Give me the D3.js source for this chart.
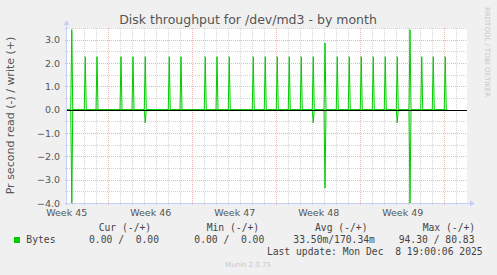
<!DOCTYPE html>
<html lang="en">
<head>
    <meta charset="UTF-8">
    <title>Disk throughput for /dev/md3 - by month</title>
    <script src="https://d3js.org/d3.v7.min.js"></script>
    <style>
        body {
            margin: 0;
            background-color: #f0f0f0;
        }
        svg text {
            white-space: pre;
        }
        .sans { font-family: "DejaVu Sans", sans-serif; }
        .mono { font-family: "DejaVu Sans Mono", monospace; }
    </style>
</head>
<body>
    <div id="chart_div"></div>

    <script>
        // Data
        const spikeTimes = [
            "2025-11-06 23:00", "2025-11-08 02:00", "2025-11-09 01:30", "2025-11-11 01:30",
            "2025-11-12 01:30", "2025-11-13 02:00", "2025-11-15 02:00", "2025-11-16 01:30",
            "2025-11-18 02:00", "2025-11-19 01:30", "2025-11-20 02:00", "2025-11-22 02:00",
            "2025-11-23 02:00", "2025-11-24 02:00", "2025-11-25 02:00", "2025-11-26 02:00",
            "2025-11-27 02:00", "2025-11-28 01:30", "2025-11-29 02:00", "2025-11-30 02:00",
            "2025-12-01 02:00", "2025-12-02 02:00", "2025-12-03 02:00", "2025-12-04 02:00",
            "2025-12-05 03:30", "2025-12-06 03:00", "2025-12-07 02:00", "2025-12-08 02:00"
        ];
        const writeValues = [
            3.43, 2.27, 2.27, 2.27, 2.27, 2.27, 2.27, 2.27,
            2.27, 2.27, 2.27, 2.27, 2.27, 2.27, 2.27, 2.27,
            2.27, 2.86, 2.27, 2.27, 2.27, 2.27, 2.27, 2.27,
            3.43, 2.27, 2.27, 2.27
        ];
        const readValues = [
            4.0, 0, 0, 0, 0, 0.57, 0, 0,
            0, 0, 0, 0, 0, 0, 0, 0,
            0.57, 3.36, 0, 0, 0, 0, 0, 0.57,
            4.0, 0, 0, 0
        ];
        const weekStarts = ["2025-11-03", "2025-11-10", "2025-11-17", "2025-11-24", "2025-12-01"];
        const yTicks = [-4, -3, -2, -1, 0, 1, 2, 3];
        const legendHeaders = ["Cur (-/+)", "Min (-/+)", "Avg (-/+)", "Max (-/+)"];
        const legendValues = ["0.00 /  0.00", "0.00 /  0.00", "33.50m/170.34m", "94.30 / 80.83"];

        const width = 497;
        const height = 275;
        const plot = { left: 67, right: 467, top: 28, bottom: 203 };
        const green = "#00cc00";
        const axisColor = "#c8cff4";
        const minorGrid = "#d4d4d4";
        const majorGrid = "#f0b4b4";

        const parseTime = d3.utcParse("%Y-%m-%d %H:%M");
        const parseDay = d3.utcParse("%Y-%m-%d");
        const start = new Date(Date.UTC(2025, 10, 6, 13, 30));
        const end = d3.utcHour.offset(start, 800);

        const x = d3.scaleUtc().domain([start, end]).range([plot.left, plot.right]);
        const y = d3.scaleLinear().domain([-4, 3.5]).range([plot.bottom, plot.top]);

        const svg = d3.select("#chart_div")
            .append("svg")
            .attr("width", width)
            .attr("height", height);

        svg.append("rect")
            .attr("width", width).attr("height", height)
            .attr("fill", "#f0f0f0");

        svg.append("rect")
            .attr("x", plot.left).attr("y", plot.top)
            .attr("width", plot.right - plot.left).attr("height", plot.bottom - plot.top)
            .attr("fill", "#ffffff");

        // Grid
        const grid = svg.append("g").attr("shape-rendering", "crispEdges");
        const days = d3.utcDay.range(start, end);
        const minorY = d3.range(-7, 8).map(d => d / 2).filter(d => !Number.isInteger(d));

        days.forEach(d => {
            const isMajor = d.getUTCDay() === 1;
            grid.append("line")
                .attr("x1", Math.round(x(d)) + 0.5).attr("x2", Math.round(x(d)) + 0.5)
                .attr("y1", plot.top).attr("y2", plot.bottom + 3)
                .attr("stroke", isMajor ? majorGrid : minorGrid)
                .attr("stroke-dasharray", "1,1");
        });
        minorY.forEach(v => {
            grid.append("line")
                .attr("x1", plot.left - 2).attr("x2", plot.right)
                .attr("y1", Math.round(y(v)) + 0.5).attr("y2", Math.round(y(v)) + 0.5)
                .attr("stroke", minorGrid)
                .attr("stroke-dasharray", "1,1");
        });
        yTicks.forEach(v => {
            grid.append("line")
                .attr("x1", plot.left - 2).attr("x2", plot.right)
                .attr("y1", Math.round(y(v)) + 0.5).attr("y2", Math.round(y(v)) + 0.5)
                .attr("stroke", majorGrid)
                .attr("stroke-dasharray", "1,1");
        });

        // Axes lines + arrows
        svg.append("line")
            .attr("x1", plot.left - 0.5).attr("x2", plot.left - 0.5)
            .attr("y1", plot.bottom + 2).attr("y2", plot.top - 4)
            .attr("stroke", axisColor);
        svg.append("line")
            .attr("x1", plot.left - 2).attr("x2", plot.right + 4)
            .attr("y1", plot.bottom + 0.5).attr("y2", plot.bottom + 0.5)
            .attr("stroke", axisColor);
        svg.append("path")
            .attr("d", `M${plot.left - 3.5},${plot.top - 3} L${plot.left - 0.5},${plot.top - 8} L${plot.left + 2.5},${plot.top - 3} Z`)
            .attr("fill", axisColor);
        svg.append("path")
            .attr("d", `M${plot.right + 3},${plot.bottom - 2.5} L${plot.right + 8},${plot.bottom + 0.5} L${plot.right + 3},${plot.bottom + 3.5} Z`)
            .attr("fill", axisColor);

        // Y axis labels
        const yAxis = svg.append("g")
            .attr("transform", `translate(${plot.left - 5},0)`)
            .call(d3.axisLeft(y).tickValues(yTicks).tickSize(0).tickPadding(2).tickFormat(d3.format(".1f")));
        yAxis.select(".domain").remove();
        yAxis.selectAll("text")
            .attr("class", "sans")
            .attr("font-size", "9.5px")
            .attr("fill", "#555");

        // X axis labels (centered in each week)
        const weekLabelTimes = weekStarts.map(d => d3.utcHour.offset(parseDay(d), 84));
        const xAxis = svg.append("g")
            .attr("transform", `translate(0,${plot.bottom + 1})`)
            .call(d3.axisBottom(x).tickValues(weekLabelTimes).tickSize(0).tickPadding(5)
                .tickFormat(d => "Week " + d3.utcFormat("%V")(d)));
        xAxis.select(".domain").remove();
        xAxis.selectAll("text")
            .attr("class", "sans")
            .attr("font-size", "9.5px")
            .attr("fill", "#555");

        // Series
        const line = d3.line().x(d => x(d[0])).y(d => y(d[1]));
        function buildPoints(sign, values) {
            const pts = [[start, 0]];
            spikeTimes.forEach((t, i) => {
                const tt = parseTime(t);
                pts.push([d3.utcHour.offset(tt, -2), 0]);
                pts.push([tt, sign * values[i]]);
                pts.push([d3.utcHour.offset(tt, 2), 0]);
            });
            pts.push([d3.utcHour.offset(parseTime(spikeTimes[spikeTimes.length - 1]), 4), 0]);
            return pts;
        }
        svg.append("path")
            .attr("d", line(buildPoints(-1, readValues)))
            .attr("fill", "none").attr("stroke", green).attr("stroke-width", 1);
        svg.append("path")
            .attr("d", line(buildPoints(1, writeValues)))
            .attr("fill", "none").attr("stroke", green).attr("stroke-width", 1);

        // Zero line
        svg.append("line")
            .attr("x1", plot.left).attr("x2", plot.right)
            .attr("y1", Math.round(y(0)) + 0.5).attr("y2", Math.round(y(0)) + 0.5)
            .attr("stroke", "#000").attr("stroke-width", 1);

        // Title
        svg.append("text")
            .attr("class", "sans")
            .attr("x", 248).attr("y", 24)
            .attr("text-anchor", "middle")
            .attr("font-size", "12.5px")
            .attr("fill", "#555")
            .text("Disk throughput for /dev/md3 - by month");

        // Y axis title
        svg.append("text")
            .attr("class", "sans")
            .attr("transform", `translate(14,${(plot.top + plot.bottom) / 2}) rotate(-90)`)
            .attr("text-anchor", "middle")
            .attr("font-size", "11px")
            .attr("fill", "#555")
            .text("Pr second read (-) / write (+)");

        // Watermark
        svg.append("text")
            .attr("class", "sans")
            .attr("transform", "translate(485,7) rotate(90)")
            .attr("font-size", "7px")
            .attr("fill", "#c8c8c8")
            .text("RRDTOOL / TOBI OETIKER");

        // Legend
        const headerX = [98.7, 206.7, 315, 422.7];
        const valueX = [89, 194.3, 293.3, 398.7];
        legendHeaders.forEach((h, i) => {
            svg.append("text")
                .attr("class", "mono")
                .attr("x", headerX[i]).attr("y", 231)
                .attr("font-size", "9.7px")
                .attr("fill", "#444")
                .text(h);
        });
        svg.append("rect")
            .attr("x", 14).attr("y", 237)
            .attr("width", 6).attr("height", 6)
            .attr("fill", green);
        svg.append("text")
            .attr("class", "mono")
            .attr("x", 26.3).attr("y", 243)
            .attr("font-size", "9.7px")
            .attr("fill", "#444")
            .text("Bytes");
        legendValues.forEach((v, i) => {
            svg.append("text")
                .attr("class", "mono")
                .attr("x", valueX[i]).attr("y", 243)
                .attr("font-size", "9.7px")
                .attr("fill", "#444")
                .text(v);
        });
        svg.append("text")
            .attr("class", "mono")
            .attr("x", 482.7).attr("y", 255)
            .attr("text-anchor", "end")
            .attr("font-size", "9.7px")
            .attr("fill", "#444")
            .text("Last update: Mon Dec  8 19:00:06 2025");

        svg.append("text")
            .attr("class", "sans")
            .attr("x", 248).attr("y", 267)
            .attr("text-anchor", "middle")
            .attr("font-size", "7px")
            .attr("fill", "#c8c8c8")
            .text("Munin 2.0.75");
    </script>
</body>
</html>
